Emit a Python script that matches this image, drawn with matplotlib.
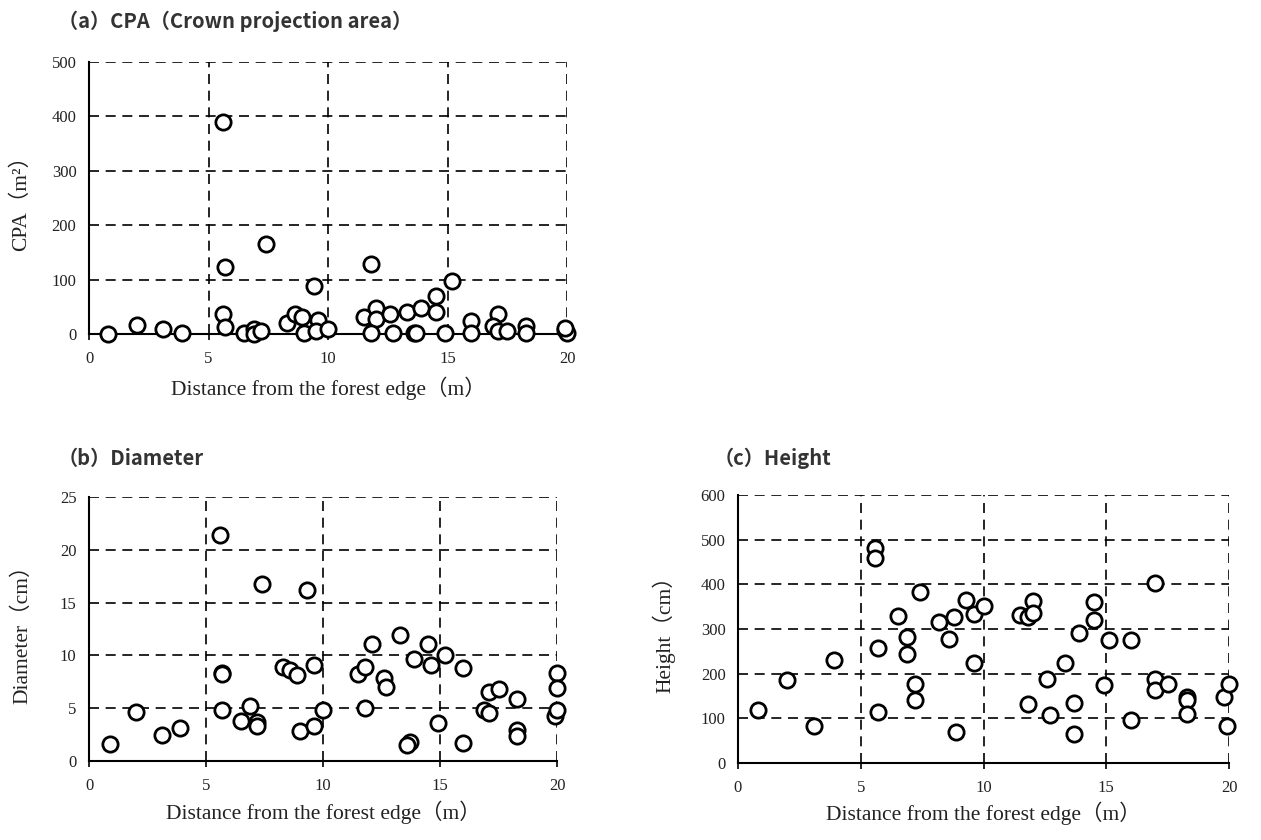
import matplotlib
matplotlib.use("Agg")
import matplotlib.pyplot as plt

# (a) crown projection area (m2) vs distance from forest edge (m)
cpa_x = [0.8, 2.0, 3.1, 3.9, 5.6, 5.7, 5.6, 5.7, 6.5, 6.9, 6.9, 7.2, 7.4, 8.3, 8.6, 8.9,
         9.0, 9.4, 9.6, 9.5, 10.0, 11.5, 11.8, 12.0, 12.0, 11.8, 12.6, 12.7, 13.3, 13.6,
         13.7, 13.9, 14.5, 14.5, 15.2, 14.9, 16.0, 16.0, 17.1, 16.9, 17.1, 17.5, 18.3,
         18.3, 19.9, 20.0, 19.9]
cpa_y = [0, 17, 9, 2, 389, 123, 37, 12, 2, 9, 0, 5, 165, 21, 37, 32,
         2, 89, 26, 5, 9, 31, 129, 48, 28, 2, 37, 2, 40, 1,
         1, 48, 69, 40, 98, 2, 23, 1, 37, 14, 6, 6, 15,
         1, 7, 2, 11]

# (b) diameter (cm)
dia_x = [0.9, 2.0, 3.1, 3.9, 5.6, 5.7, 5.7, 5.7, 6.5, 6.9, 7.2, 7.2, 7.4, 8.3, 8.6, 8.9,
         9.0, 9.3, 9.6, 9.6, 10.0, 11.5, 11.8, 11.8, 12.1, 12.6, 12.7, 13.3, 13.7, 13.6,
         13.9, 14.5, 14.6, 15.2, 14.9, 16.0, 16.0, 16.9, 17.1, 17.1, 17.5, 18.3, 18.3,
         18.3, 20.0, 20.0, 19.9, 20.0]
dia_y = [1.6, 4.6, 2.5, 3.1, 21.4, 8.3, 8.2, 4.8, 3.8, 5.2, 3.7, 3.3, 16.8, 8.9, 8.6, 8.1,
         2.8, 16.2, 9.1, 3.3, 4.8, 8.2, 8.9, 5.0, 11.1, 7.9, 7.0, 11.9, 1.8, 1.5,
         9.7, 11.1, 9.1, 10.0, 3.6, 8.8, 1.7, 4.8, 6.5, 4.5, 6.8, 5.9, 2.9,
         2.4, 8.3, 6.9, 4.3, 4.8]

# (c) height (cm)
hgt_x = [0.8, 2.0, 3.1, 3.9, 5.6, 5.6, 5.7, 5.7, 6.5, 6.9, 6.9, 7.2, 7.2, 7.4, 8.2, 8.6,
         8.8, 8.9, 9.3, 9.6, 9.6, 10.0, 11.5, 11.8, 11.8, 12.0, 12.0, 12.6, 12.7, 13.3,
         13.7, 13.7, 13.9, 14.5, 14.5, 15.1, 14.9, 16.0, 16.0, 17.0, 17.0, 17.0, 17.5,
         18.3, 18.3, 18.3, 19.8, 20.0, 19.9]
hgt_y = [118, 185, 83, 230, 481, 458, 258, 114, 330, 283, 244, 176, 142, 383, 315, 277,
         326, 70, 366, 333, 224, 352, 331, 327, 132, 363, 336, 189, 107, 224,
         135, 66, 291, 361, 321, 275, 174, 275, 97, 402, 187, 164, 176,
         148, 142, 109, 148, 176, 82]

serif = ["Liberation Serif", "Noto Sans CJK JP"]
gothic = ["Noto Sans CJK JP", "DejaVu Sans"]
xlab = "Distance from the forest edge（m）"
ink = "#222222"

fig = plt.figure(figsize=(12.61, 8.4), dpi=100)
W, H = 1261, 840


def panel(left, top, right, bottom, x, y, ymax, ystep, ylabel, ylab_x, xlab_y):
    ax = fig.add_axes([left / W, 1 - bottom / H, (right - left) / W, (bottom - top) / H])
    ax.plot(x, y, "o", ms=11, mfc="white", mec="black", mew=2.0, clip_on=False, zorder=5)
    ax.set_xlim(0, 20)
    ax.set_ylim(0, ymax)
    ax.set_xticks(range(0, 21, 5))
    ax.set_yticks(range(0, ymax + 1, ystep))
    for v in range(5, 21, 5):
        ax.axvline(v, color="black", lw=1.2, ls=(0, (6, 4)), zorder=1)
    for v in range(ystep, ymax + 1, ystep):
        ax.axhline(v, color="black", lw=1.2, ls=(0, (6, 4)), zorder=1)
    for s in ["top", "right"]:
        ax.spines[s].set_visible(False)
    for s in ["left", "bottom"]:
        ax.spines[s].set_linewidth(1.5)
    ax.tick_params(axis="x", direction="out", length=4, width=1.2, pad=8)
    ax.tick_params(axis="y", length=0, pad=9)
    for t in ax.get_xticklabels() + ax.get_yticklabels():
        t.set_family(serif)
        t.set_fontsize(12)
        t.set_color(ink)
    ax.set_xlabel(xlab, family=serif, fontsize=15.5, color=ink)
    ax.set_ylabel(ylabel, family=serif, fontsize=15.5, color=ink)
    ax.yaxis.set_label_coords(ylab_x, 0.5)
    ax.xaxis.set_label_coords(0.5, xlab_y)
    return ax


panel(89, 62, 567, 334, cpa_x, cpa_y, 500, 100, "CPA（m²）", -0.121, -0.157)
panel(89, 497, 557, 761, dia_x, dia_y, 25, 5, "Diameter（cm）", -0.12, -0.151)
panel(738, 495, 1229, 763, hgt_x, hgt_y, 600, 100, "Height（cm）", -0.128, -0.143)

title_kw = dict(family=gothic, fontsize=14.5, fontweight="bold", color="#333333", va="center")
fig.text(58 / W, 1 - 21 / H, "（a）CPA（Crown projection area）", **title_kw)
fig.text(58 / W, 1 - 458 / H, "（b）Diameter", **title_kw)
fig.text(714 / W, 1 - 458 / H, "（c）Height", **title_kw)

fig.savefig("out.png", dpi=100)
